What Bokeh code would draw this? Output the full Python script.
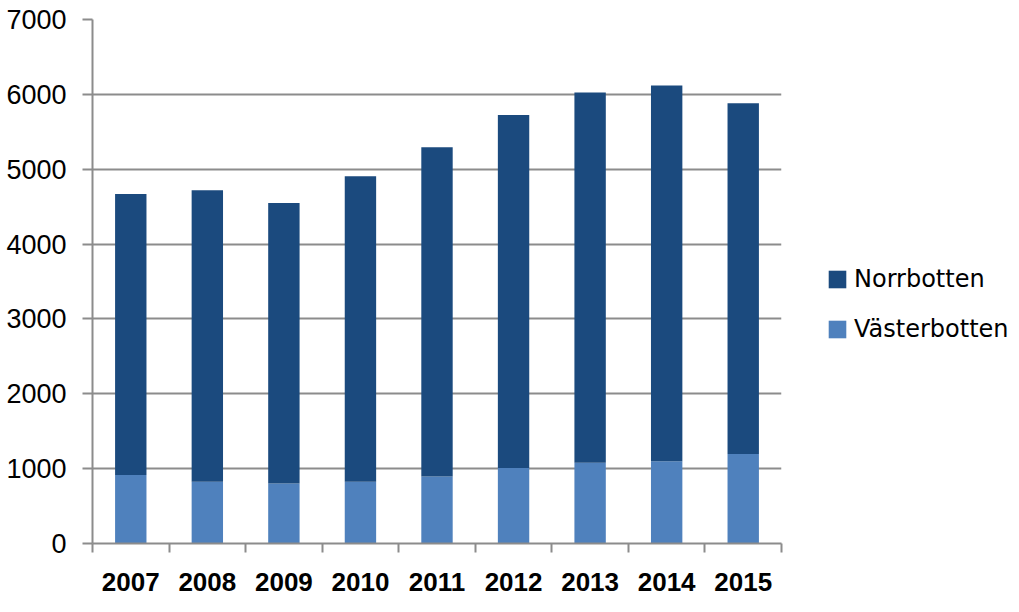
from bokeh.plotting import figure
from bokeh.models import ColumnDataSource, FixedTicker, Range1d, Legend, LegendItem
from bokeh.embed import file_html
from bokeh.resources import INLINE

years = ["2007", "2008", "2009", "2010", "2011", "2012", "2013", "2014", "2015"]
vasterbotten = [915, 825, 800, 825, 895, 1008, 1080, 1100, 1195]
totals = [4670, 4720, 4550, 4905, 5295, 5725, 6025, 6118, 5882]
norrbotten = [t - v for t, v in zip(totals, vasterbotten)]
y_ticks = [0, 1000, 2000, 3000, 4000, 5000, 6000, 7000]

DARK = "#1B4A7E"
LIGHT = "#4F81BD"
GRID = "#8C8C8C"

xs = [i + 0.5 for i in range(len(years))]
src = ColumnDataSource(dict(x=xs, Västerbotten=vasterbotten, Norrbotten=norrbotten))

p = figure(frame_width=689, frame_height=524, output_backend="svg", toolbar_location=None,
           x_range=Range1d(0, len(years)), y_range=Range1d(0, 7000),
           min_border_left=92, min_border_top=19, min_border_right=10, min_border_bottom=58)
p.outline_line_color = None
p.background_fill_color = "white"
p.border_fill_color = "white"

r = p.vbar_stack(["Västerbotten", "Norrbotten"], x="x", width=0.41, source=src,
                 color=[LIGHT, DARK], line_color=None)

# y axis
p.yaxis.ticker = FixedTicker(ticks=y_ticks)
p.yaxis.axis_line_color = GRID
p.yaxis.axis_line_width = 2
p.yaxis.major_tick_line_color = GRID
p.yaxis.major_tick_line_width = 2
p.yaxis.major_tick_out = 10
p.yaxis.major_tick_in = 0
p.yaxis.minor_tick_line_color = None
p.yaxis.major_label_standoff = 16
p.yaxis.major_label_text_font = "Liberation Sans"
p.yaxis.major_label_text_font_size = "27px"
p.yaxis.major_label_text_color = "black"

# x axis
p.xaxis.ticker = FixedTicker(ticks=xs, minor_ticks=list(range(len(years) + 1)))
p.xaxis.major_label_overrides = {x: y for x, y in zip(xs, years)}
p.xaxis.axis_line_color = GRID
p.xaxis.axis_line_width = 2
p.xaxis.major_tick_line_color = None
p.xaxis.major_tick_out = 0
p.xaxis.major_tick_in = 0
p.xaxis.minor_tick_line_color = GRID
p.xaxis.minor_tick_line_width = 2
p.xaxis.minor_tick_out = 9
p.xaxis.minor_tick_in = 0
p.xaxis.major_label_standoff = 20
p.xaxis.major_label_text_font = "Liberation Sans"
p.xaxis.major_label_text_font_style = "bold"
p.xaxis.major_label_text_font_size = "26px"
p.xaxis.major_label_text_color = "black"

p.xgrid.grid_line_color = None
p.ygrid.grid_line_color = GRID
p.ygrid.grid_line_width = 2

legend = Legend(items=[LegendItem(label="Norrbotten", renderers=[r[1]]),
                       LegendItem(label="Västerbotten", renderers=[r[0]])],
                location=(45, 200), padding=0, margin=0, spacing=22,
                glyph_width=22, glyph_height=22, label_standoff=6,
                label_text_font="DejaVu Sans", label_text_font_size="24px",
                label_text_color="black",
                border_line_color=None, background_fill_alpha=0)
p.add_layout(legend, "right")

open("out.html", "w").write(file_html(p, INLINE))
